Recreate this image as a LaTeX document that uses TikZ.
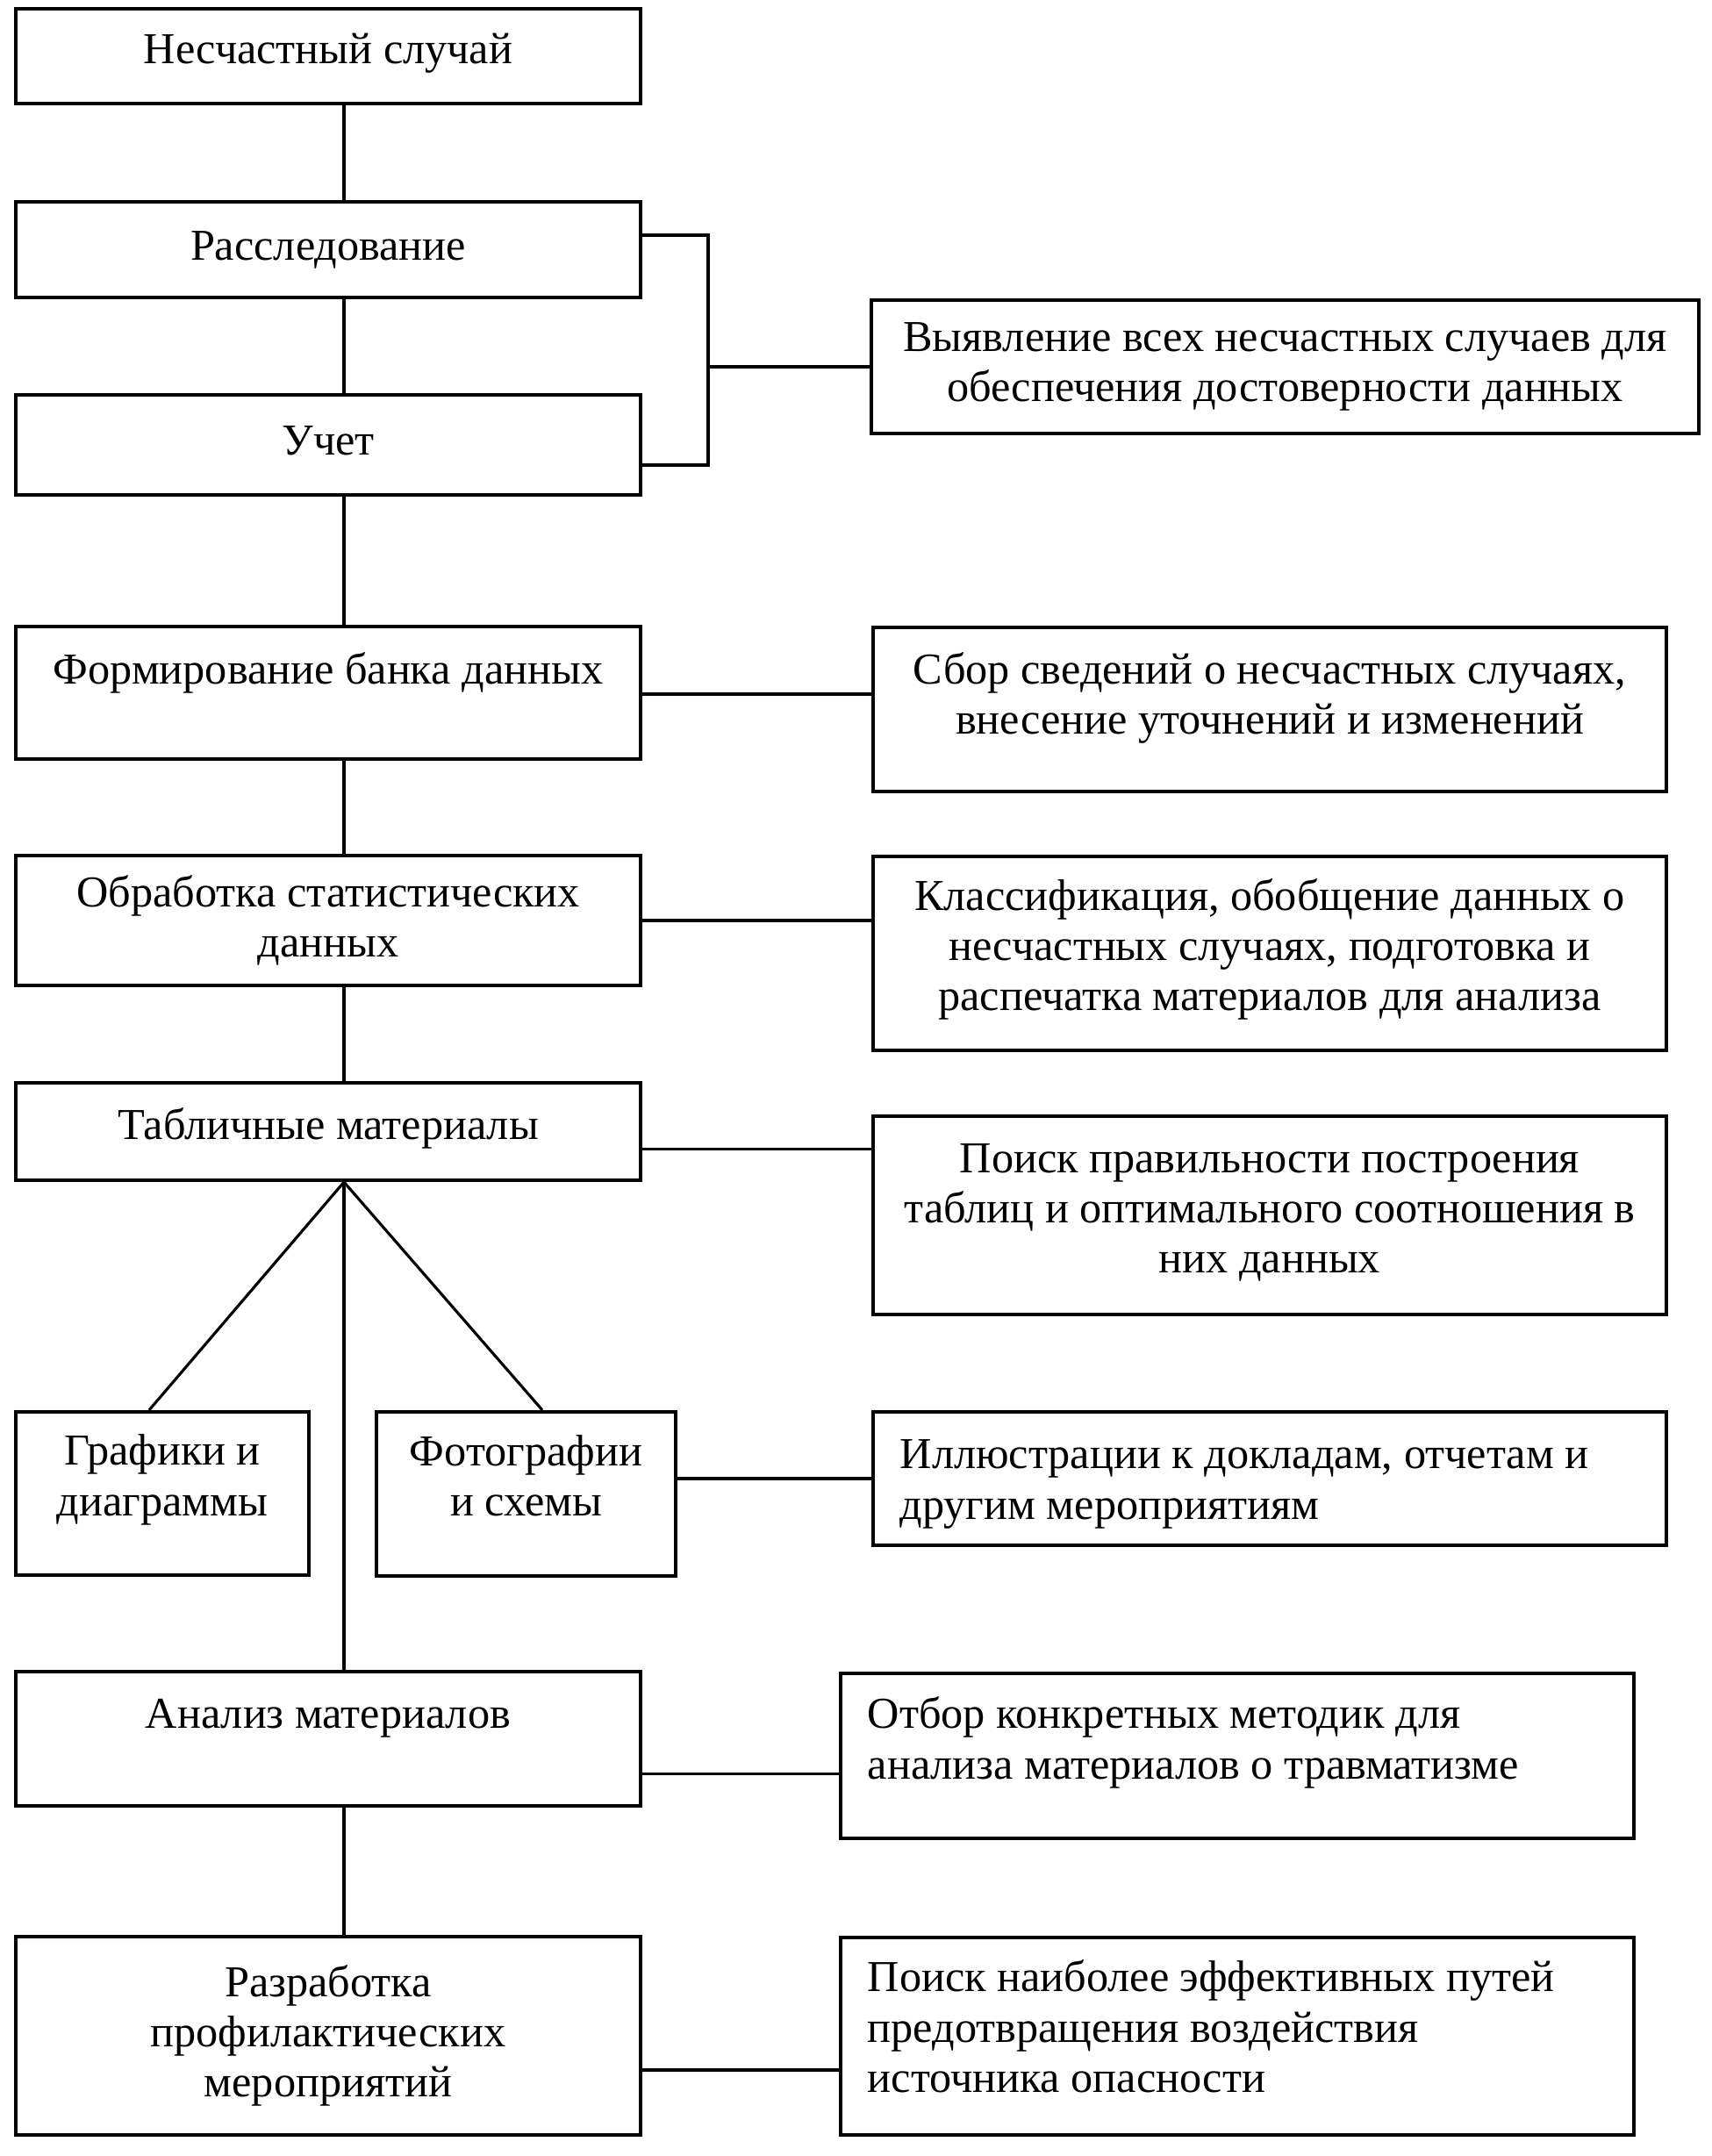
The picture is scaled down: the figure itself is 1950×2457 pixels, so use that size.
\documentclass[tikz,border=0pt]{standalone}
\usepackage{fontspec}
\setmainfont{Liberation Serif}
\begin{document}
\begin{tikzpicture}[
    x=0.01cm, y=-0.01cm,
    every node/.style={font=\fontsize{14.3pt}{16.3pt}\selectfont},
    box/.style={draw, line width=1.15pt, align=center, inner sep=2pt},
    wide/.style={box, minimum width=7.12cm},
    side/.style={box, minimum width=9.04cm},
    leftside/.style={box, text width=8.42cm, inner xsep=0.31cm, align=flush left},
    lift/.style={text depth=#1},
    link/.style={line width=0.9pt},
    tie/.style={line width=1.1pt}
]
\useasboundingbox (0,0) rectangle (1950,2457);

% left column
\node[wide, minimum height=1.08cm, lift=5pt] (nesch) at (374,64) {Несчастный случай};
\node[wide, minimum height=1.09cm] (rassl) at (374,284.5) {Расследование};
\node[wide, minimum height=1.14cm, lift=3pt] (uchet) at (374,507) {Учет};
\node[wide, minimum height=1.51cm, lift=16pt] (form) at (374,789.5) {Формирование банка данных};
\node[wide, minimum height=1.48cm] (obrab) at (374,1049) {Обработка статистических\\данных};
\node[wide, minimum height=1.11cm, lift=5pt] (tabl) at (374,1289.5) {Табличные материалы};
\node[box, minimum width=3.34cm, minimum height=1.86cm, lift=12pt] (graf) at (185,1702) {Графики и\\диаграммы};
\node[box, minimum width=3.41cm, minimum height=1.87cm, lift=12pt] (foto) at (599.5,1702.5) {Фотографии\\и схемы};
\node[wide, minimum height=1.53cm, lift=16.4pt] (anal) at (374,1981.5) {Анализ материалов};
\node[wide, minimum height=2.26cm] (razr) at (374,2320) {Разработка\\профилактических\\мероприятий};

% right column
\node[box, minimum width=9.43cm, minimum height=1.52cm] (vyyav) at (1464.5,418) {Выявление всех несчастных случаев для\\обеспечения достоверности данных};
\node[side, minimum height=1.87cm, lift=10.6pt] (sbor) at (1447,808.5) {Сбор сведений о несчастных случаях,\\внесение уточнений и изменений};
\node[side, minimum height=2.21cm, lift=5.6pt] (klass) at (1447,1086.5) {Классификация, обобщение данных о\\несчастных случаях, подготовка и\\распечатка материалов для анализа};
\node[side, minimum height=2.26cm, lift=4.5pt] (poisk) at (1447,1385) {Поиск правильности построения\\таблиц и оптимального соотношения в\\них данных};
\node[leftside, minimum height=1.52cm, lift=15.7pt] (illyus) at (1447,1685) {Иллюстрации к докладам, отчетам и\\другим мероприятиям};
\node[leftside, minimum height=1.88cm, lift=28pt] (otbor) at (1410,2001) {Отбор конкретных методик для\\анализа материалов о травматизме};
\node[leftside, minimum height=2.25cm, lift=39pt] (vozd) at (1410,2320.5) {Поиск наиболее эффективных путей\\предотвращения воздействия\\источника опасности};

% spine
\coordinate (spine) at (392,0);
\coordinate (brk) at (807,418);
\draw[link] (nesch.south -| spine) -- (rassl.north -| spine);
\draw[link] (rassl.south -| spine) -- (uchet.north -| spine);
\draw[link] (uchet.south -| spine) -- (form.north -| spine);
\draw[link] (form.south -| spine) -- (obrab.north -| spine);
\draw[link] (obrab.south -| spine) -- (tabl.north -| spine);
\draw[link] (tabl.south -| spine) -- (anal.north -| spine);
\draw[link] (anal.south -| spine) -- (razr.north -| spine);
\draw[link] (tabl.south -| spine) -- ([xshift=-0.15cm]graf.north);
\draw[link] (tabl.south -| spine) -- ([xshift=0.185cm]foto.north);

% ties to the right
\draw[tie] ([yshift=0.165cm]rassl.east) -| (brk) |- ([yshift=-0.23cm]uchet.east);
\draw[tie] (brk) -- (vyyav.west);
\draw[tie] ([yshift=-0.015cm]form.east) -- ([yshift=-0.015cm]form.east -| sbor.west);
\draw[tie] (obrab.east) -- (obrab.east -| klass.west);
\draw[tie] ([yshift=-0.2cm]tabl.east) -- ([yshift=-0.2cm]tabl.east -| poisk.west);
\draw[tie] (illyus.west) -- (illyus.west -| foto.east);
\draw[tie] ([yshift=-0.4cm]anal.east) -- ([yshift=-0.4cm]anal.east -| otbor.west);
\draw[tie] ([yshift=-0.39cm]razr.east) -- ([yshift=-0.39cm]razr.east -| vozd.west);

\end{tikzpicture}
\end{document}
